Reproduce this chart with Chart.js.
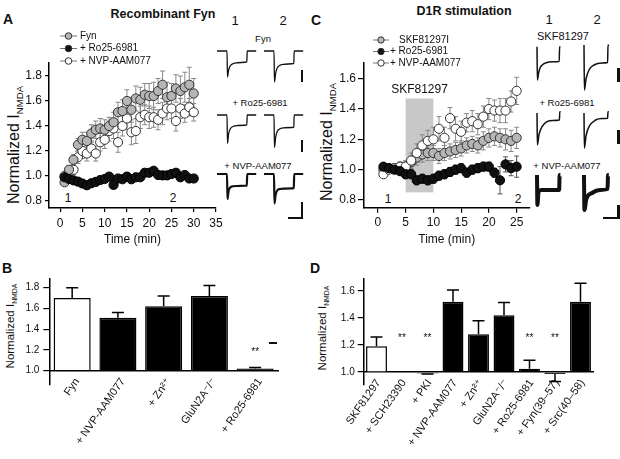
<!DOCTYPE html>
<html><head><meta charset="utf-8">
<script src="https://cdn.jsdelivr.net/npm/chart.js@4.4.1/dist/chart.umd.min.js"></script>
<style>
html,body{margin:0;padding:0;background:#fff}
body{width:620px;height:459px;position:relative;overflow:hidden;font-family:'Liberation Sans',Arial,'DejaVu Sans',sans-serif;color:#111}
canvas{position:absolute}
.t{position:absolute;white-space:nowrap;line-height:1;transform:translate(-50%,-50%);color:#111}
.b{font-weight:bold}
.r{transform:translate(-50%,-50%) rotate(-90deg)}
.sb{position:absolute;background:#111}
.s{font-size:0.6em;position:relative;top:0.4em}
</style></head><body>
<div class="t b" style="left:8px;top:19px;font-size:14px">A</div>
<div class="t b" style="left:163px;top:14px;font-size:12.5px">Recombinant Fyn</div>
<div class="t b" style="left:316px;top:20px;font-size:14px">C</div>
<div class="t b" style="left:464px;top:11px;font-size:12.5px">D1R stimulation</div>
<div class="t b" style="left:7px;top:268px;font-size:14px">B</div>
<div class="t b" style="left:315px;top:268px;font-size:14px">D</div>

<div class="t r" style="left:14px;top:145px;font-size:16px">Normalized I<span class="s">NMDA</span></div>
<div class="t r" style="left:327px;top:142px;font-size:16px">Normalized I<span class="s">NMDA</span></div>
<div class="t r" style="left:11px;top:326px;font-size:11.5px">Normalized I<span class="s">NMDA</span></div>
<div class="t r" style="left:323px;top:328px;font-size:11.5px">Normalized I<span class="s">NMDA</span></div>

<div class="t" style="left:68px;top:198px;font-size:12px">1</div>
<div class="t" style="left:173px;top:198px;font-size:12px">2</div>
<div class="t" style="left:388px;top:199px;font-size:12px">1</div>
<div class="t" style="left:518px;top:199px;font-size:12px">2</div>

<div class="t" style="left:235px;top:20px;font-size:13px">1</div>
<div class="t" style="left:283px;top:20px;font-size:13px">2</div>
<div class="t" style="left:549px;top:19px;font-size:13px">1</div>
<div class="t" style="left:597px;top:19px;font-size:13px">2</div>
<div class="t" style="left:263px;top:39px;font-size:9.5px">Fyn</div>
<div class="t" style="left:260px;top:103px;font-size:9.5px">+ Ro25-6981</div>
<div class="t" style="left:258px;top:166px;font-size:9.5px">+ NVP-AAM077</div>
<div class="t" style="left:563px;top:36px;font-size:11px">SKF81297</div>
<div class="t" style="left:567px;top:103px;font-size:9.5px">+ Ro25-6981</div>
<div class="t" style="left:567px;top:166px;font-size:9.5px">+ NVP-AAM077</div>

<div class="sb" style="left:300.5px;top:70px;width:2.5px;height:12px"></div>
<div class="sb" style="left:300.5px;top:140px;width:2.5px;height:12px"></div>
<div class="sb" style="left:300.5px;top:202px;width:2.5px;height:17px"></div>
<div class="sb" style="left:288px;top:216.5px;width:15px;height:2.5px"></div>
<div class="sb" style="left:617px;top:68px;width:2.5px;height:14px"></div>
<div class="sb" style="left:617px;top:130px;width:2.5px;height:14px"></div>
<div class="sb" style="left:617px;top:205px;width:2.5px;height:14px"></div>
<div class="sb" style="left:603px;top:216.5px;width:16.5px;height:2.5px"></div>
<div class="sb" style="left:269px;top:342px;width:8px;height:2px"></div>

<canvas id="cA" width="230" height="250" style="left:0;top:0"></canvas>
<canvas id="cC" width="225" height="250" style="left:310px;top:0"></canvas>
<canvas id="cB" width="285" height="204" style="left:0;top:255px"></canvas>
<canvas id="cD" width="300" height="204" style="left:310px;top:255px"></canvas>

<script>
// ---------------- DATA ----------------
// Panel A: recombinant Fyn time course (min, normalized I_NMDA, SEM)
const timeA = [1,2,3,4,5,6,7,8,9,10,11,12,13,14,15,16,17,18,19,20,21,22,23,24,25,26,27,28,29,30];
const fynA = [0.95,1.05,1.13,1.25,1.29,1.28,1.34,1.37,1.38,1.37,1.40,1.43,1.51,1.52,1.60,1.53,1.62,1.61,1.65,1.64,1.64,1.68,1.73,1.63,1.64,1.70,1.68,1.71,1.73,1.66];
const fynAErr = [0.02,0.03,0.04,0.05,0.06,0.07,0.07,0.07,0.08,0.08,0.07,0.08,0.08,0.09,0.09,0.10,0.10,0.10,0.09,0.10,0.11,0.10,0.11,0.12,0.10,0.11,0.12,0.12,0.14,0.12];
const ro25A = [0.99,0.976,0.965,0.955,0.94,0.926,0.942,0.953,0.968,0.976,0.995,0.929,0.98,0.974,0.995,0.974,0.99,0.99,1.026,1.026,1.042,1.008,1.005,1.005,1.016,1.026,0.99,1.008,0.98,0.98];
const ro25AErr = [0.02,0.02,0.02,0.02,0.03,0.03,0.02,0.02,0.02,0.02,0.02,0.02,0.02,0.02,0.03,0.03,0.02,0.02,0.03,0.02,0.02,0.03,0.03,0.03,0.03,0.03,0.03,0.03,0.02,0.02];
const nvpA = [1.00,1.03,1.05,1.15,1.20,1.18,1.22,1.18,1.27,1.29,1.36,1.38,1.27,1.40,1.46,1.35,1.36,1.47,1.49,1.47,1.47,1.45,1.50,1.54,1.54,1.44,1.54,1.50,1.55,1.51];
const nvpAErr = [0.02,0.03,0.04,0.05,0.06,0.06,0.06,0.06,0.07,0.07,0.08,0.08,0.08,0.08,0.09,0.10,0.10,0.09,0.08,0.09,0.08,0.08,0.09,0.09,0.08,0.08,0.08,0.07,0.07,0.07];
const xTicksA = [0,5,10,15,20,25,30,35];
const yTicksA = [0.8,1.0,1.2,1.4,1.6,1.8];

// Panel C: D1R stimulation time course
const timeC = [1,2,3,4,5,6,7,8,9,10,11,12,13,14,15,16,17,18,19,20,21,22,23,24,25];
const skfC = [1.00,1.01,1.01,1.02,1.02,1.05,1.08,1.10,1.11,1.11,1.09,1.11,1.12,1.13,1.14,1.16,1.17,1.16,1.19,1.21,1.22,1.21,1.20,1.19,1.21];
const skfCErr = [0.02,0.02,0.02,0.02,0.03,0.04,0.05,0.05,0.05,0.05,0.05,0.05,0.05,0.05,0.05,0.05,0.05,0.05,0.06,0.06,0.06,0.06,0.07,0.07,0.07];
const ro25C = [1.02,1.01,1.00,0.99,0.97,0.97,0.93,0.94,0.93,0.94,0.96,0.97,0.985,1.00,1.01,0.98,1.00,1.01,1.02,1.02,0.98,0.93,1.035,1.01,1.02];
const ro25CErr = [0.02,0.02,0.02,0.02,0.03,0.03,0.03,0.03,0.03,0.03,0.03,0.03,0.03,0.03,0.03,0.03,0.03,0.03,0.03,0.03,0.03,0.09,0.05,0.05,0.07];
const nvpC = [0.97,1.00,1.01,1.02,1.02,1.06,1.11,1.16,1.19,1.20,1.27,1.21,1.34,1.27,1.25,1.31,1.32,1.30,1.35,1.40,1.39,1.39,1.39,1.45,1.52];
const nvpCErr = [0.02,0.02,0.03,0.03,0.04,0.05,0.06,0.07,0.07,0.08,0.08,0.07,0.07,0.08,0.07,0.06,0.07,0.07,0.07,0.07,0.07,0.08,0.08,0.07,0.09];
const xTicksC = [0,5,10,15,20,25];
const yTicksC = [0.8,1.0,1.2,1.4,1.6];
const skfWindow = [5,10];   // SKF81297 application (min)

// Panel B: summary bars
const catsB = ['Fyn','+ NVP-AAM077','+ Zn\u00B2\u207A','GluN2A\u207B/\u207B','+ Ro25-6981'];
const valsB = [1.70,1.51,1.62,1.72,1.02];
const errB  = [0.10,0.05,0.10,0.10,0.01];
const sigB  = ['','','','','**'];
const yTicksB = [1.0,1.2,1.4,1.6,1.8];

// Panel D: summary bars
const catsD = ['SKF81297','+ SCH23390','+ PKI','+ NVP-AAM077','+ Zn\u00B2\u207A','GluN2A\u207B/\u207B','+ Ro25-6981','+ Fyn(39\u201357)','+ Src(40\u201358)'];
const valsD = [1.19,1.005,0.99,1.52,1.28,1.42,1.025,0.985,1.52];
const errD  = [0.07,0,0.005,0.087,0.10,0.095,0.063,0.055,0.137];
const sigD  = ['','**','**','','','','**','**',''];
const yTicksD = [1.0,1.2,1.4,1.6];

// Example NMDA current traces: [time ms, current pA]
const trTimeA = [0,250,262,290,330,400,520,700,745,755,980];
const trFyn1 = [0,0,-520,-380,-300,-255,-235,-225,-220,0,0];
const trFyn2 = [0,0,-620,-450,-340,-285,-265,-255,-250,0,0];
const trRoA1 = [0,0,-566,-380,-280,-230,-210,-205,-200,0,0];
const trRoA2 = [0,0,-648,-450,-330,-275,-255,-250,-245,0,0];
const trNvA1 = [0,0,-500,-340,-270,-245,-240,-235,-235,0,0];
const trNvA2 = [0,0,-590,-420,-330,-300,-292,-288,-285,0,0];
const trSkf1 = [[0,26],[10,-640],[40,-500],[75,-400],[130,-340],[210,-300],[400,-275],[555,-270],[565,26],[585,15]];
const trSkf2 = [[0,60],[10,-840],[50,-620],[125,-440],[250,-340],[450,-300],[590,-290],[600,60],[620,40]];
const trRoC1 = [[0,0],[10,-640],[50,-430],[125,-274],[250,-174],[400,-150],[560,-140],[570,26],[590,20]];
const trRoC2 = [[0,0],[10,-700],[50,-460],[125,-274],[290,-140],[450,-110],[590,-105],[600,26],[620,20]];
const trNvC1 = [[0,0],[10,-600],[40,-330],[100,-300],[555,-300],[565,0],[585,0]];
const trNvC2 = [[0,0],[10,-700],[60,-480],[200,-360],[400,-300],[590,-280],[600,0],[620,0]];

// ---------------- RENDERING ----------------
const FONT = "'Liberation Sans', Arial, 'DejaVu Sans', sans-serif";
Chart.defaults.font.family = FONT;
Chart.defaults.color = '#111';
Chart.defaults.animation = false;

const pts = (xs, ys) => xs.map((x, i) => ({x, y: ys[i]}));
const setTicks = arr => s => { s.ticks = arr.map(v => ({value: v})); };

const scatterErr = {
  id: 'scatterErr',
  beforeDatasetsDraw(chart) {
    const {ctx, scales: {x, y}} = chart;
    ctx.save();
    chart.data.datasets.slice().reverse().forEach(ds => {
      if (!ds.err) return;
      ctx.strokeStyle = ds.errColor; ctx.lineWidth = 1;
      ds.data.forEach((p, i) => {
        const px = x.getPixelForValue(p.x);
        const yt = y.getPixelForValue(p.y + ds.err[i]);
        const yb = y.getPixelForValue(p.y - ds.err[i]);
        ctx.beginPath();
        ctx.moveTo(px, yt); ctx.lineTo(px, yb);
        ctx.moveTo(px - 2.5, yt); ctx.lineTo(px + 2.5, yt);
        ctx.moveTo(px - 2.5, yb); ctx.lineTo(px + 2.5, yb);
        ctx.stroke();
      });
    });
    ctx.restore();
  }
};

const shadePlugin = {
  id: 'shade',
  beforeDatasetsDraw(chart, args, o) {
    if (!o || !o.range) return;
    const {ctx, scales: {x, y}} = chart;
    const x1 = x.getPixelForValue(o.range[0]), x2 = x.getPixelForValue(o.range[1]);
    const y1 = y.getPixelForValue(o.yTop), y2 = y.getPixelForValue(o.yBottom);
    ctx.save();
    ctx.fillStyle = '#c8c8c8';
    ctx.fillRect(x1, y1, x2 - x1, y2 - y1);
    ctx.fillStyle = '#111'; ctx.font = '12px ' + FONT;
    ctx.textAlign = 'center'; ctx.textBaseline = 'alphabetic';
    ctx.fillText(o.label, (x1 + x2) / 2, y1 - 5);
    ctx.restore();
  }
};

const legendPlugin = {
  id: 'seriesLegend',
  afterDraw(chart, args, o) {
    if (!o || !o.items) return;
    const ctx = chart.ctx;
    ctx.save();
    o.items.forEach((lab, i) => {
      const ds = chart.data.datasets.find(d => d.label === lab);
      const y = o.y + i * o.dy;
      ctx.strokeStyle = '#777'; ctx.lineWidth = 1;
      ctx.beginPath(); ctx.moveTo(o.x, y); ctx.lineTo(o.x + o.len, y); ctx.stroke();
      ctx.beginPath(); ctx.arc(o.x + o.len / 2, y, o.r, 0, Math.PI * 2);
      ctx.fillStyle = ds.backgroundColor; ctx.fill();
      ctx.strokeStyle = '#333'; ctx.stroke();
      ctx.fillStyle = '#111'; ctx.font = '10px ' + FONT;
      ctx.textAlign = 'left'; ctx.textBaseline = 'middle';
      ctx.fillText(lab, o.tx + (o.indent ? o.indent[i] : 0), y);
    });
    ctx.restore();
  }
};

const barErr = {
  id: 'barErr',
  afterDatasetsDraw(chart, args, o) {
    const {ctx, scales: {y}} = chart;
    const ds = chart.data.datasets[0];
    const meta = chart.getDatasetMeta(0);
    ctx.save();
    ctx.strokeStyle = '#000'; ctx.lineWidth = 1.5;
    ds.data.forEach((v, i) => {
      const px = meta.data[i].x;
      const e = ds.err[i];
      const dir = v >= ds.base ? 1 : -1;
      if (e > 0) {
        const y0 = y.getPixelForValue(v), y1 = y.getPixelForValue(v + dir * e);
        ctx.beginPath();
        ctx.moveTo(px, y0); ctx.lineTo(px, y1);
        ctx.moveTo(px - 6, y1); ctx.lineTo(px + 6, y1);
        ctx.stroke();
      }
      if (ds.sig[i]) {
        ctx.fillStyle = '#111'; ctx.font = '10px ' + FONT;
        ctx.textAlign = 'center'; ctx.textBaseline = 'middle';
        ctx.fillText(ds.sig[i], px, y.getPixelForValue(o.sigLevel));
      }
    });
    ctx.restore();
  }
};

function axisCommon(tl, pad, size) {
  return {
    grid: {display: true, drawOnChartArea: false, drawTicks: true, tickLength: tl, color: '#000', lineWidth: 1.2},
    border: {display: true, color: '#000', width: 1.5},
    ticks: {color: '#111', font: {size: size}, padding: pad, autoSkip: false, maxRotation: 0}
  };
}

function timeChart(id, sets, cfg) {
  const xs = axisCommon(cfg.xtl, cfg.xpad, 12);
  const ys = axisCommon(cfg.ytl, cfg.ypad, 12);
  return new Chart(document.getElementById(id), {
    type: 'scatter',
    data: {datasets: sets},
    options: {
      responsive: false, animation: false, events: [],
      layout: {padding: cfg.padding},
      elements: {point: {radius: 4.6, borderWidth: 1, borderColor: '#222'}},
      plugins: {legend: {display: false}, tooltip: {enabled: false},
        seriesLegend: cfg.legend, shade: cfg.shade || {}},
      scales: {
        x: Object.assign(xs, {type: 'linear', min: cfg.xmin, max: cfg.xmax,
          afterBuildTicks: setTicks(cfg.xticks), afterFit: s => { s.height = cfg.xh; },
          ticks: Object.assign(xs.ticks, {callback: v => String(v)}),
          title: {display: true, text: 'Time (min)', font: {size: 12}, color: '#111', padding: {top: 0, bottom: 3}}}),
        y: Object.assign(ys, {type: 'linear', min: cfg.ymin, max: cfg.ymax,
          afterBuildTicks: setTicks(cfg.yticks), afterFit: s => { s.width = cfg.yw; },
          ticks: Object.assign(ys.ticks, {callback: v => v.toFixed(1)})})
      }
    },
    plugins: [shadePlugin, scatterErr, legendPlugin]
  });
}

timeChart('cA', [
  {label: '+ Ro25-6981', data: pts(timeA, ro25A), err: ro25AErr, errColor: '#555', backgroundColor: '#111', borderColor: '#000'},
  {label: 'Fyn', data: pts(timeA, fynA), err: fynAErr, errColor: '#888', backgroundColor: '#b5b5b5', borderColor: '#333'},
  {label: '+ NVP-AAM077', data: pts(timeA, nvpA), err: nvpAErr, errColor: '#888', backgroundColor: '#fff', borderColor: '#333'}
], {padding: {top: 63, left: 0, right: 14, bottom: 0}, xmin: -2.5, xmax: 35, ymin: 0.744, ymax: 1.904,
    xticks: xTicksA, yticks: yTicksA, xh: 42, yw: 49, xtl: 4, xpad: 4, ytl: 4, ypad: 3,
    legend: {items: ['Fyn', '+ Ro25-6981', '+ NVP-AAM077'], x: 60, y: 36, dy: 12.5, len: 17, r: 3.3, tx: 80}});

timeChart('cC', [
  {label: '+ Ro25-6981', data: pts(timeC, ro25C), err: ro25CErr, errColor: '#555', backgroundColor: '#111', borderColor: '#000'},
  {label: '+ NVP-AAM077', data: pts(timeC, nvpC), err: nvpCErr, errColor: '#888', backgroundColor: '#fff', borderColor: '#333'},
  {label: 'SKF81297I', data: pts(timeC, skfC), err: skfCErr, errColor: '#888', backgroundColor: '#b5b5b5', borderColor: '#333'}
], {padding: {top: 63, left: 0, right: 3.3, bottom: 0}, xmin: -2.5, xmax: 27.3, ymin: 0.749, ymax: 1.704,
    xticks: xTicksC, yticks: yTicksC, xh: 42.3, yw: 54, xtl: 5, xpad: 3, ytl: 6, ypad: 2,
    legend: {items: ['SKF81297I', '+ Ro25-6981', '+ NVP-AAM077'], x: 63, y: 40, dy: 11.5, len: 16, r: 3.2, tx: 80, indent: [9, 0, 0]},
    shade: {range: skfWindow, yTop: 1.47, yBottom: 0.85, label: 'SKF81297'}});

function barChart(id, cats, vals, errs, sig, yticks, cfg) {
  const ys = axisCommon(6, cfg.ypad, 10);
  return new Chart(document.getElementById(id), {
    type: 'bar',
    data: {labels: cats, datasets: [{
      data: vals, base: 1, err: errs, sig: sig,
      backgroundColor: ctx => ctx.dataIndex === 0 ? '#fff' : '#000',
      borderColor: '#000', borderWidth: 1.5,
      barPercentage: cfg.bp, categoryPercentage: 1
    }]},
    options: {
      responsive: false, animation: false, events: [],
      layout: {padding: cfg.padding},
      plugins: {legend: {display: false}, tooltip: {enabled: false}, barErr: {sigLevel: cfg.sigLevel}},
      scales: {
        x: {type: 'category', position: {y: 1}, offset: true,
            grid: {display: true, drawOnChartArea: false, drawTicks: false},
            border: {display: true, color: '#000', width: 1.5},
            ticks: {minRotation: 55, maxRotation: 55, autoSkip: false, padding: cfg.lpad, labelOffset: cfg.loff, font: {size: 11}, color: '#111'}},
        y: Object.assign(ys, {type: 'linear', min: cfg.ymin, max: cfg.ymax,
            afterBuildTicks: setTicks(yticks), afterFit: s => { s.width = cfg.yw; },
            ticks: Object.assign(ys.ticks, {callback: v => v.toFixed(1)})})
      }
    },
    plugins: [barErr]
  });
}

barChart('cB', catsB, valsB, errB, sigB, yTicksB,
  {padding: {top: 23.3, left: 0, right: 7, bottom: 74}, ymin: 0.862, ymax: 1.89, yw: 49.3, ypad: 4, bp: 0.81, sigLevel: 1.18, lpad: 5, loff: 5});
barChart('cD', catsD, valsD, errD, sigD, yTicksD,
  {padding: {top: 23.3, left: 0, right: 16.75, bottom: 74}, ymin: 0.904, ymax: 1.694, yw: 53.75, ypad: 3, bp: 0.82, sigLevel: 1.25, lpad: 5, loff: 2});

// traces
function trace(left, top, data, lw, xmin) {
  const c = document.createElement('canvas');
  c.width = 40; c.height = 50;
  c.style.left = left + 'px'; c.style.top = top + 'px';
  document.body.appendChild(c);
  new Chart(c, {
    type: 'line',
    data: {datasets: [{data: data.map(([x, y]) => ({x, y})), borderColor: '#111', borderWidth: lw,
      pointRadius: 0, cubicInterpolationMode: 'monotone', fill: false}]},
    options: {responsive: false, animation: false, events: [], layout: {padding: 0},
      plugins: {legend: {display: false}, tooltip: {enabled: false}},
      scales: {x: {type: 'linear', display: false, min: xmin, max: xmin + 1000},
               y: {display: false, min: -900, max: 100}}}
  });
}
const zipA = ys => trTimeA.map((t, i) => [t, ys[i]]);
trace(217, 45.7, zipA(trFyn1), 1.3, 0);
trace(264, 45.7, zipA(trFyn2), 1.3, 0);
trace(217, 110, zipA(trRoA1), 1.3, 0);
trace(264, 110, zipA(trRoA2), 1.3, 0);
trace(217, 168.5, zipA(trNvA1), 2.2, 0);
trace(264, 168.5, zipA(trNvA2), 2.2, 0);
trace(535, 43, trSkf1, 1.5, -50);
trace(581.5, 43, trSkf2, 1.5, -50);
trace(535, 108, trRoC1, 1.5, -50);
trace(581.5, 108, trRoC2, 1.5, -50);
trace(535, 170, trNvC1, 4, -50);
trace(581.5, 170, trNvC2, 4, -50);
</script>
</body></html>
